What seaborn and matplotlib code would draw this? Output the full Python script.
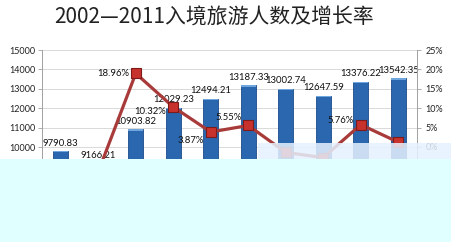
import numpy as np
import pandas as pd
import matplotlib
matplotlib.use("Agg")
import matplotlib.pyplot as plt
import seaborn as sns
from matplotlib.patches import Rectangle

years = ["2002", "2003", "2004", "2005", "2006", "2007", "2008", "2009", "2010", "2011"]
visitors = [9790.83, 9166.21, 10903.82, 12029.23, 12494.21, 13187.33, 13002.74, 12647.59, 13376.22, 13542.35]
growth = [np.nan, -6.38, 18.96, 10.32, 3.87, 5.55, -1.40, -2.73, 5.76, 1.24]
rate_labels = ["", "", "18.96%", "10.32%", "3.87%", "5.55%", "", "", "5.76%", ""]
left_ticks = [10000, 11000, 12000, 13000, 14000, 15000]
right_ticks = [0, 5, 10, 15, 20, 25]
title = "2002—2011入境旅游人数及增长率"

sns.set_theme(style="white")
plt.rcParams["font.family"] = ["Lato", "Noto Sans CJK SC", "DejaVu Sans"]

df = pd.DataFrame({"year": years, "visitors": visitors, "growth": growth, "idx": np.arange(len(years))})

fig = plt.figure(figsize=(4.52, 2.42), dpi=100)
W, H = 452, 242
ax = fig.add_axes([42 / W, 1 - 185.8 / H, (417 - 42) / W, (185.8 - 50) / H])

sns.barplot(data=df, x="year", y="visitors", color="#2A67AF", width=0.4,
            saturation=1, edgecolor="#1D4C8A", linewidth=0.6, ax=ax, zorder=2)
# lighter top cap on each bar
for p in ax.patches:
    ax.add_patch(Rectangle((p.get_x(), p.get_height() - 70), p.get_width(), 70,
                           facecolor="#6FA6DE", edgecolor="none", zorder=3))
for i, v in enumerate(visitors):
    ax.annotate(f"{v:.2f}", (i, v), xytext=(0, 2.5), textcoords="offset points",
                ha="center", va="bottom", fontsize=6.8, color="#111111", zorder=6)

ax.set_xlim(-0.5, 9.5)
ax.set_ylim(8000, 15000)
ax.set_yticks(left_ticks)
ax.set_yticklabels([str(t) for t in left_ticks])
ax.set_xlabel("")
ax.set_ylabel("")
ax.set_xticks([])
ax.yaxis.grid(True, color="#D9D9D9", linewidth=0.7)
ax.set_axisbelow(True)
for s in ["top", "right", "bottom"]:
    ax.spines[s].set_visible(False)
ax.spines["left"].set_color("#A0A0A0")
ax.spines["left"].set_linewidth(0.7)
ax.tick_params(axis="y", left=True, length=3, width=0.6, color="#A0A0A0",
               labelsize=6.5, labelcolor="#222222", pad=2)

ax2 = ax.twinx()
sns.lineplot(data=df, x="idx", y="growth", color="#A83A3A", linewidth=2.3,
             marker="s", markersize=7, markerfacecolor="#C8322C",
             markeredgecolor="#7D1A1A", markeredgewidth=0.8, ax=ax2, zorder=5)
label_dy = [0, 0, 0, -3, -6, 6, 0, 0, 3, 0]
for i, (g, lab, dy) in enumerate(zip(growth, rate_labels, label_dy)):
    if lab:
        ax2.annotate(lab, (i, g), xytext=(-5, dy), textcoords="offset points",
                     ha="right", va="center", fontsize=6.8, color="#111111", zorder=6)
ax2.set_ylim(-10, 25)
ax2.set_yticks(right_ticks)
ax2.set_yticklabels([f"{t}%" for t in right_ticks])
ax2.set_xlim(-0.5, 9.5)
ax2.set_xlabel("")
ax2.set_ylabel("")
for s in ["top", "left", "bottom"]:
    ax2.spines[s].set_visible(False)
ax2.spines["right"].set_color("#A0A0A0")
ax2.spines["right"].set_linewidth(0.7)
ax2.tick_params(axis="y", right=True, length=3, width=0.6, color="#A0A0A0",
                labelsize=6.5, labelcolor="#222222", pad=3)
ax2.grid(False)

fig.text(214 / W, 1 - 18 / H, title, ha="center", va="center", fontsize=15,
         color="#222222", family=["Noto Sans CJK SC", "DejaVu Sans"])

# damaged lower part of the picture
fig.add_artist(Rectangle((258 / W, 1 - 159 / H), 1, 16 / H, transform=fig.transFigure,
                         facecolor="#E6F2FF", alpha=0.85, edgecolor="none", zorder=20))
fig.add_artist(Rectangle((0, 0), 1, 1 - 159 / H, transform=fig.transFigure,
                         facecolor="#E0FFFF", edgecolor="none", zorder=21))

fig.savefig("out.png", dpi=100)
